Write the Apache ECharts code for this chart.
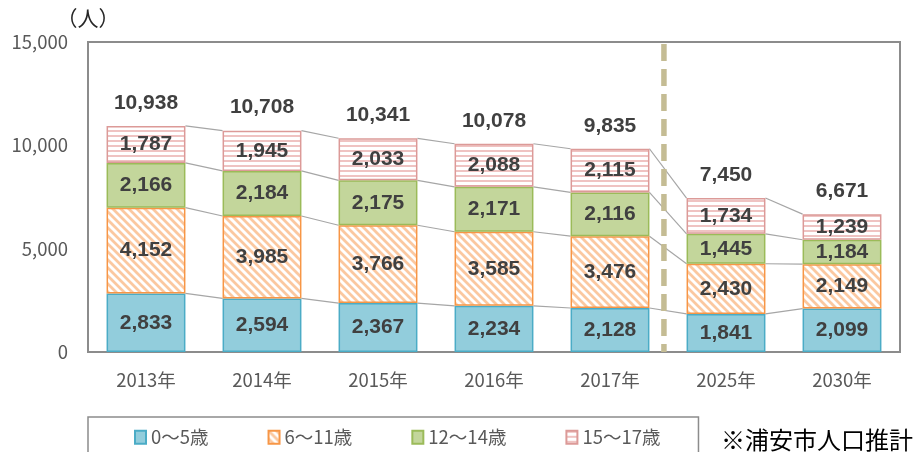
<!DOCTYPE html>
<html>
<head>
<meta charset="utf-8">
<script src="https://cdn.jsdelivr.net/npm/echarts@6/dist/echarts.min.js"></script>
<style>
  html, body { margin: 0; padding: 0; background: #fff; }
  #main { width: 915px; height: 452px; }
</style>
</head>
<body>
<div id="main"></div>
<script>
// values
const years = ['2013年', '2014年', '2015年', '2016年', '2017年', '2025年', '2030年'];
const age0to5 = [2833, 2594, 2367, 2234, 2128, 1841, 2099];
const age6to11 = [4152, 3985, 3766, 3585, 3476, 2430, 2149];
const age12to14 = [2166, 2184, 2175, 2171, 2116, 1445, 1184];
const age15to17 = [1787, 1945, 2033, 2088, 2115, 1734, 1239];
const totals = [10938, 10708, 10341, 10078, 9835, 7450, 6671];
const yTicks = [0, 5000, 10000, 15000];

const fmt = (v) => v.toLocaleString('en-US');
const labelFont = 'Liberation Sans, Arial, sans-serif';
const jpFont = 'Noto Sans CJK JP, sans-serif';

// stripe patterns
function diagPattern() {
  const c = document.createElement('canvas');
  c.width = 8; c.height = 8;
  const g = c.getContext('2d');
  g.fillStyle = '#ffffff';
  g.fillRect(0, 0, 8, 8);
  g.strokeStyle = '#fbc8a0';
  g.lineWidth = 2.8;
  g.beginPath();
  for (let k = -8; k <= 8; k += 8) {
    g.moveTo(k - 1, -1);
    g.lineTo(k + 9, 9);
  }
  g.stroke();
  return { image: c, repeat: 'repeat' };
}
function horizPattern() {
  const c = document.createElement('canvas');
  c.width = 4; c.height = 5;
  const g = c.getContext('2d');
  g.fillStyle = '#ffffff';
  g.fillRect(0, 0, 4, 5);
  g.fillStyle = '#efc3c2';
  g.fillRect(0, 0, 4, 2);
  return { image: c, repeat: 'repeat' };
}

const barWidthRatio = 0.68;
const stackLevels = [0, 1, 2, 3].map((k) =>
  years.map((_, i) => [age0to5, age6to11, age12to14, age15to17]
    .slice(0, k + 1).reduce((s, arr) => s + arr[i], 0)));

const insideLabel = {
  show: true,
  position: 'inside',
  color: '#404040',
  fontSize: 21,
  fontWeight: 'bold',
  fontFamily: labelFont,
  formatter: (p) => fmt(p.value),
};

function barSeries(name, data, fill, border) {
  return {
    name: name,
    type: 'bar',
    stack: 'total',
    barWidth: (barWidthRatio * 100) + '%',
    data: data,
    itemStyle: { color: fill, borderColor: border, borderWidth: 1.5 },
    label: insideLabel,
    emphasis: { disabled: true },
  };
}

const chart = echarts.init(document.getElementById('main'));
chart.setOption({
  animation: false,
  grid: { left: 88, right: 15, top: 42, bottom: 100, show: true, borderColor: '#8c8c8c', borderWidth: 2 },
  legend: {
    left: 88,
    top: 417,
    padding: [11, 38, 20, 46],
    borderColor: '#8c8c8c',
    borderWidth: 1.5,
    itemGap: 59,
    itemWidth: 11,
    itemHeight: 13,
    icon: 'rect',
    textStyle: { color: '#595959', fontSize: 18.5, fontFamily: jpFont },
    data: ['0～5歳', '6～11歳', '12～14歳', '15～17歳'],
  },
  title: {
    text: '※浦安市人口推計',
    right: -3,
    top: 423,
    textStyle: { color: '#000', fontSize: 24, fontWeight: 'normal', fontFamily: jpFont },
  },
  xAxis: {
    type: 'category',
    data: years,
    axisLine: { show: false },
    axisTick: { show: false },
    axisLabel: { color: '#595959', fontSize: 18.5, fontFamily: jpFont, margin: 19 },
  },
  yAxis: {
    type: 'value',
    min: yTicks[0],
    max: yTicks[yTicks.length - 1],
    interval: yTicks[1] - yTicks[0],
    name: '（人）',
    nameLocation: 'end',
    nameGap: 13,
    nameTextStyle: { color: '#262626', fontSize: 21, fontFamily: jpFont, align: 'center' },
    axisLine: { show: false },
    axisTick: { show: false },
    splitLine: { show: false },
    axisLabel: { color: '#595959', fontSize: 18.5, fontFamily: jpFont, margin: 20, formatter: fmt },
  },
  series: [
    barSeries('0～5歳', age0to5, '#92cddc', '#4bacc6'),
    barSeries('6～11歳', age6to11, diagPattern(), '#f79646'),
    barSeries('12～14歳', age12to14, '#c3d69b', '#9bbb59'),
    barSeries('15～17歳', age15to17, horizPattern(), '#dc9a98'),
    {
      // series lines between neighbouring stacks
      type: 'custom',
      silent: true,
      data: years.slice(0, -1).map((y, i) => [i, totals[i]]),
      renderItem: function (params, api) {
        const i = params.dataIndex;
        const hw = api.size([1, 0])[0] * barWidthRatio / 2;
        const children = stackLevels.map((lvl) => {
          const a = api.coord([i, lvl[i]]);
          const b = api.coord([i + 1, lvl[i + 1]]);
          return {
            type: 'line',
            shape: { x1: a[0] + hw, y1: a[1], x2: b[0] - hw, y2: b[1] },
            style: { stroke: '#a6a6a6', lineWidth: 1.2 },
          };
        });
        return { type: 'group', children: children };
      },
      z: 1,
    },
    {
      // totals above each stack
      type: 'custom',
      silent: true,
      data: totals.map((t, i) => [i, t]),
      renderItem: function (params, api) {
        const p = api.coord([params.dataIndex, api.value(1)]);
        return {
          type: 'text',
          x: p[0],
          y: p[1] - 23,
          style: {
            text: fmt(api.value(1)),
            textAlign: 'center',
            textVerticalAlign: 'middle',
            fill: '#404040',
            font: 'bold 21px ' + labelFont,
          },
        };
      },
      z: 3,
    },
    {
      // dashed divider between actual and projected years
      type: 'custom',
      silent: true,
      data: [[4, yTicks[yTicks.length - 1]]],
      renderItem: function (params, api) {
        const a = api.coord([4, yTicks[yTicks.length - 1]]);
        const b = api.coord([5, 0]);
        const x = (a[0] + b[0]) / 2 - api.size([1, 0])[0] * 0.035;
        return {
          type: 'line',
          shape: { x1: x, y1: a[1] + 2, x2: x, y2: b[1] },
          style: { stroke: '#c4bc94', lineWidth: 5.5, lineDash: [17, 8] },
        };
      },
      z: 4,
    },
  ],
});
</script>
</body>
</html>
